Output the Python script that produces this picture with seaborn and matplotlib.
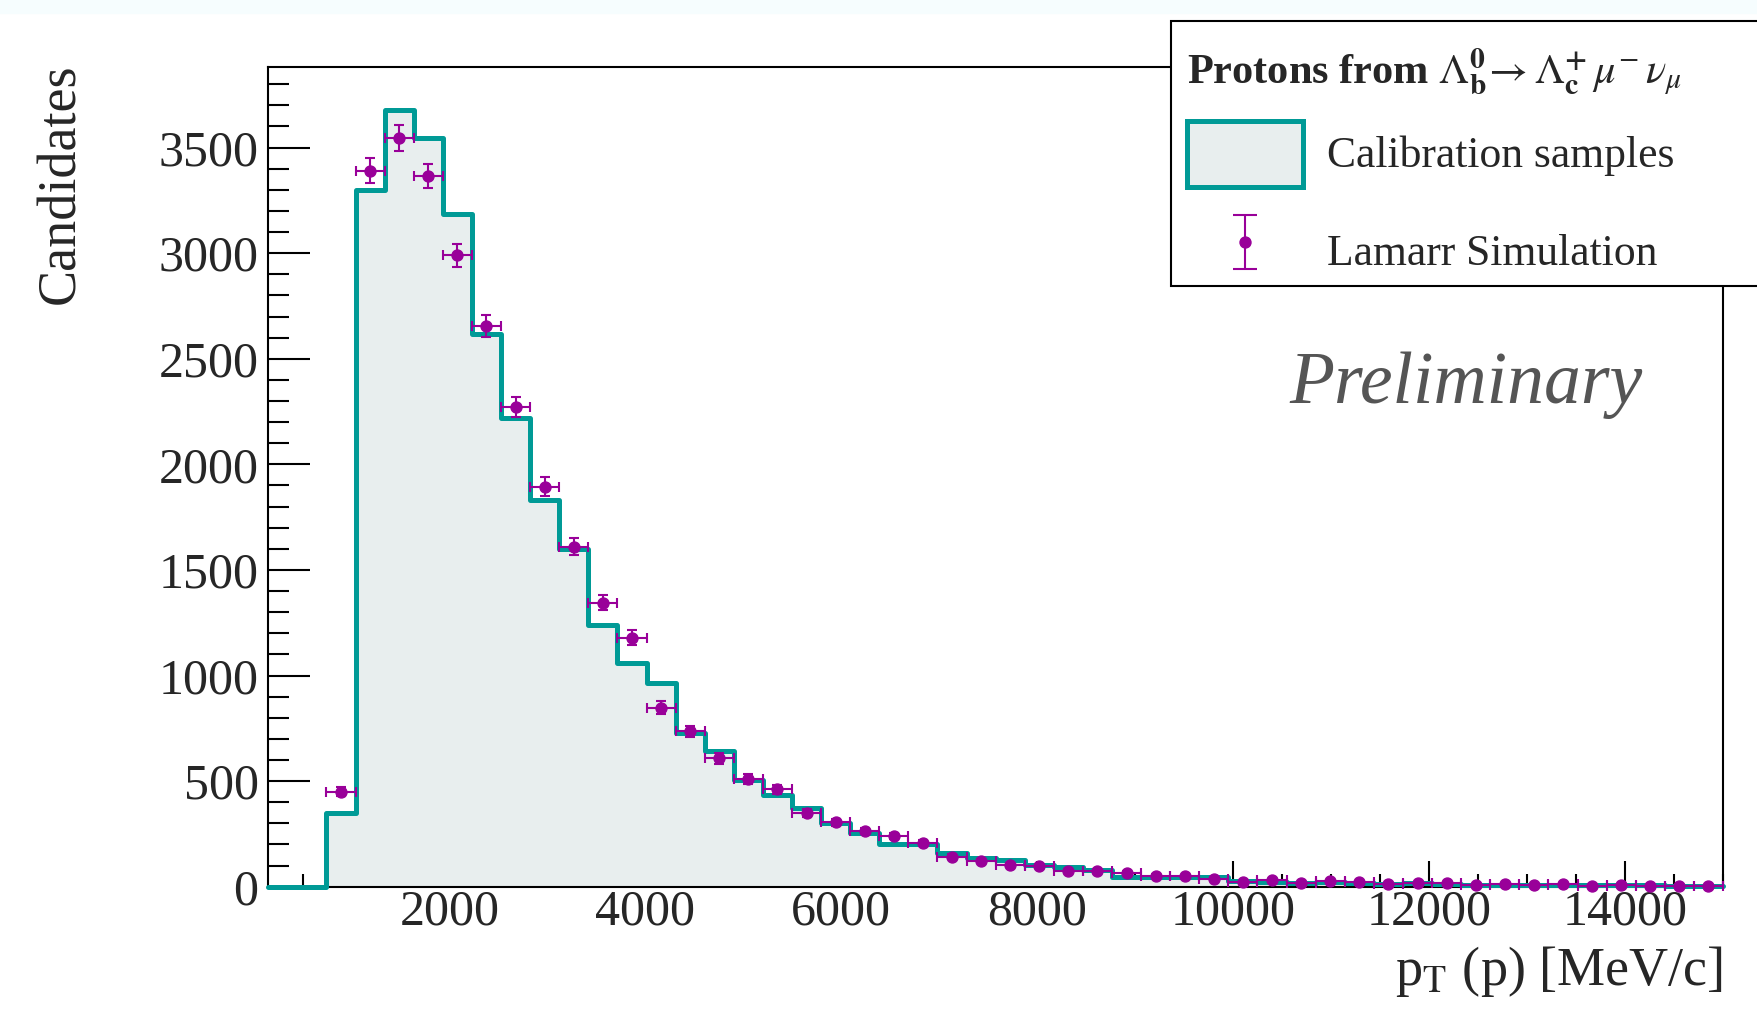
import numpy as np
import pandas as pd
import matplotlib
matplotlib.use("Agg")
import matplotlib.pyplot as plt
import seaborn as sns
from matplotlib.patches import Patch, Rectangle
from matplotlib.legend_handler import HandlerErrorbar
from matplotlib.ticker import MultipleLocator
from matplotlib.font_manager import FontProperties

# binning: 50 bins of pT between 150 and 15000 MeV/c
pt_min, pt_max, n_bins = 150, 15000, 50
edges = np.linspace(pt_min, pt_max, n_bins + 1)
centers = 0.5 * (edges[:-1] + edges[1:])

# calibration samples (histogram)
calib = [0, 0, 350, 3300, 3680, 3545, 3185, 2615, 2220, 1830,
         1600, 1240, 1060, 963, 730, 642, 505, 434, 371, 303,
         256, 202, 202, 161, 134, 126, 103, 92, 79, 44,
         47, 47, 48, 28, 22, 18, 20, 17, 14, 16,
         12, 10, 9, 8, 9, 7, 6, 6, 5, 4]
# Lamarr simulation (points)
lamarr = [0, 0, 450, 3390, 3545, 3365, 2990, 2655, 2270, 1895,
          1610, 1345, 1180, 848, 735, 608, 511, 461, 350, 305,
          264, 240, 205, 142, 122, 103, 98, 74, 74, 65,
          51, 49, 38, 24, 32, 16, 28, 24, 13, 19,
          16, 8, 13, 6, 11, 5, 9, 5, 3, 3]

teal = "#009a96"
fill_c = "#e8eeee"
purple = "#990099"

df = pd.DataFrame({"pt": centers, "calib": calib, "lamarr": lamarr})

sns.set_style("ticks")
plt.rcParams['font.family'] = ['Liberation Serif', 'DejaVu Serif']
plt.rcParams['mathtext.fontset'] = 'stix'

W, H = 1758, 1009
fig = plt.figure(figsize=(W / 100, H / 100), dpi=100)
fig.add_artist(Rectangle((0, 1 - 13 / H), 1, 13 / H, transform=fig.transFigure,
                         color="#f6fdfe", zorder=0))
ax = fig.add_subplot(111)
fig.subplots_adjust(left=0.1526, right=0.9801, bottom=0.1212, top=0.9333)

# histogram fill + outline
sns.histplot(data=df, x="pt", weights="calib", bins=n_bins, binrange=(pt_min, pt_max),
             element="step", fill=True, color=fill_c, alpha=1, linewidth=0, ax=ax)
sns.histplot(data=df, x="pt", weights="calib", bins=n_bins, binrange=(pt_min, pt_max),
             element="step", fill=False, color=teal, linewidth=3.6, ax=ax,
             clip_on=False, zorder=3)

# simulation points
sim = df[df["lamarr"] > 0]
half_w = (pt_max - pt_min) / n_bins / 2
ax.errorbar(sim["pt"], sim["lamarr"], xerr=half_w, yerr=np.sqrt(sim["lamarr"]), fmt='o',
            color=purple, ms=7.9, elinewidth=1.5, capsize=3.6, capthick=1.5,
            zorder=5, clip_on=False)

ax.set_xlim(pt_min, pt_max)
ax.set_ylim(0, 3880)
ax.xaxis.set_major_locator(MultipleLocator(2000))
ax.xaxis.set_minor_locator(MultipleLocator(500))
ax.yaxis.set_major_locator(MultipleLocator(500))
ax.yaxis.set_minor_locator(MultipleLocator(100))
ax.tick_params(axis='both', which='both', direction='in', top=False, right=False,
               width=1.5, color='black')
ax.tick_params(axis='y', which='major', length=30, pad=7, labelsize=36)
ax.tick_params(axis='y', which='minor', length=15)
ax.tick_params(axis='x', which='major', length=18.7, pad=2, labelsize=36)
ax.tick_params(axis='x', which='minor', length=9.1)
for s in ax.spines.values():
    s.set_linewidth(1.5)
    s.set_color('black')

ax.set_xlabel(r"p$_{\mathrm{T}}$ (p) [MeV/c]", fontsize=39, loc='right')
ax.xaxis.set_label_coords(1.0, -0.07)
ax.set_ylabel("Candidates", fontsize=39, loc='top')
ax.yaxis.set_label_coords(-0.1251, 1.005)

ax.text(0.7017, 0.5903, "Preliminary", transform=ax.transAxes, fontsize=53,
        style='italic', color='#555555', va='baseline')

# legend: white box drawn over the axes, entries on top of it
fig.add_artist(Rectangle((1171 / W, 1 - 286 / H), 640 / W, 265 / H,
                         transform=fig.transFigure, facecolor='white',
                         edgecolor='black', linewidth=1.5, zorder=5))
h_cal = Patch(facecolor=fill_c, edgecolor=teal, linewidth=3.6)
# proxy outside the x range, only used for the legend key
h_lam = ax.errorbar([0], [1000], yerr=[100], fmt='o', color=purple, ms=7.9,
                    elinewidth=1.5, capsize=8.6, capthick=1.5)
title = (r"Protons from $\Lambda^{\mathbf{0}}_{\mathbf{b}}\!\rightarrow"
         r"\Lambda^{\mathbf{+}}_{\mathbf{c}}\,\mu^{-}\,\nu_{\mu}$")
leg = fig.legend([h_cal, h_lam], ["Calibration samples", "Lamarr Simulation"],
                 title=title,
                 title_fontproperties=FontProperties(family='Liberation Serif',
                                                     weight='bold', size=30.5),
                 fontsize=31.4, loc='upper left',
                 bbox_to_anchor=(1187 / W, 1 - 46 / H),
                 bbox_transform=fig.transFigure, borderaxespad=0, borderpad=0,
                 handlelength=2.66, handleheight=1.95, handletextpad=0.54,
                 labelspacing=0.73, frameon=False, alignment='left',
                 handler_map={type(h_lam): HandlerErrorbar(yerr_size=0.62)})
# keep the gap between title and first entry smaller than between entries
leg._legend_box.sep = 0.53 * 31.4
leg.set_zorder(6)

fig.savefig("out.png", dpi=100)
